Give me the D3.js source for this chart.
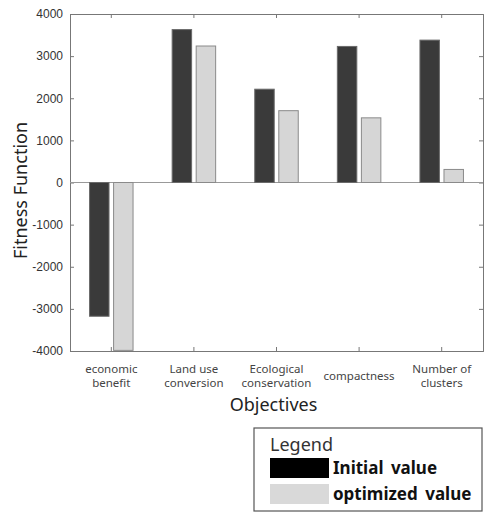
<!DOCTYPE html>
<html>
<head>
<meta charset="utf-8">
<script src="https://cdn.jsdelivr.net/npm/d3@7"></script>
<style>
  body { margin: 0; background: #fff; }
  text { font-family: "Noto Sans", "Open Sans", sans-serif; }
</style>
</head>
<body>
<div id="chart"></div>
<script>
// Chart data
var categories = [["economic", "benefit"], ["Land use", "conversion"], ["Ecological", "conservation"], ["compactness"], ["Number of", "clusters"]];
var seriesNames = ["Initial value", "optimized value"];
var initialValues = [-3175, 3630, 2215, 3230, 3380];
var optimizedValues = [-3985, 3240, 1705, 1535, 310];
var yTicks = [-4000, -3000, -2000, -1000, 0, 1000, 2000, 3000, 4000];

var svgWidth = 485;
var svgHeight = 514;
var margin = { top: 14, right: 2, bottom: 163, left: 70 };
var width = svgWidth - margin.left - margin.right;
var height = svgHeight - margin.top - margin.bottom;

var fills = ["#3a3a3a", "#d6d6d6"];
var strokes = ["#6a6a6a", "#8a8a8a"];

var svg = d3.select("#chart")
  .append("svg")
  .attr("width", svgWidth)
  .attr("height", svgHeight);

var chartGroup = svg.append("g")
  .attr("transform", `translate(${margin.left}, ${margin.top})`);

var rows = categories.map(function(c, i) {
  return { idx: i, values: [initialValues[i], optimizedValues[i]] };
});

// scales
var x0 = d3.scaleBand()
  .domain(d3.range(categories.length))
  .range([0, width])
  .padding(0);

var x1 = d3.scaleBand()
  .domain([0, 1])
  .range([-21.75, 21.75])
  .paddingInner(0.19);

var y = d3.scaleLinear()
  .domain([-4000, 4000])
  .range([height, 0]);

// axes (box style, ticks inside)
var leftAxis = d3.axisLeft(y).tickValues(yTicks).tickSize(-4).tickPadding(7).tickFormat(d3.format("d"));
var rightAxis = d3.axisRight(y).tickValues(yTicks).tickSize(-4).tickFormat("");
var bottomAxis = d3.axisBottom(x0).tickSize(-4).tickFormat("");
var topAxis = d3.axisTop(x0).tickSize(-4).tickFormat("");

var gl = chartGroup.append("g").call(leftAxis);
chartGroup.append("g").attr("transform", `translate(${width},0)`).call(rightAxis);
chartGroup.append("g").attr("transform", `translate(0,${height})`).call(bottomAxis);
chartGroup.append("g").call(topAxis);

chartGroup.selectAll(".domain").attr("stroke", "#777");
chartGroup.selectAll(".tick line").attr("stroke", "#777");
gl.selectAll("text")
  .attr("fill", "#333")
  .style("font-family", "'Liberation Sans', Arial, sans-serif")
  .style("font-size", "12px")
  .text(d => String(d).replace("-", "-"));

// zero line
chartGroup.append("line")
  .attr("x1", 0)
  .attr("x2", width)
  .attr("y1", y(0))
  .attr("y2", y(0))
  .attr("stroke", "#999")
  .attr("stroke-width", 1.2);

// bars
var groups = chartGroup.selectAll(".grp")
  .data(rows)
  .enter()
  .append("g")
  .attr("transform", d => `translate(${x0(d.idx) + x0.bandwidth() / 2},0)`);

groups.selectAll("rect")
  .data(d => d.values.map((v, k) => ({ k: k, v: v })))
  .enter()
  .append("rect")
  .attr("x", d => x1(d.k))
  .attr("width", x1.bandwidth())
  .attr("y", d => y(Math.max(0, d.v)))
  .attr("height", d => Math.abs(y(d.v) - y(0)))
  .attr("fill", d => fills[d.k])
  .attr("stroke", d => strokes[d.k])
  .attr("stroke-width", 1);

// category labels
var labels = chartGroup.selectAll(".cat")
  .data(categories)
  .enter()
  .append("text")
  .attr("text-anchor", "middle")
  .attr("fill", "#444")
  .style("font-size", "11.5px")
  .attr("transform", (d, i) => `translate(${x0(i) + x0.bandwidth() / 2}, ${height + (d.length === 1 ? 29 : 22)})`);

labels.selectAll("tspan")
  .data(d => d)
  .enter()
  .append("tspan")
  .attr("x", 0)
  .attr("dy", (d, i) => i === 0 ? 0 : 14)
  .text(d => d);

// axis titles
chartGroup.append("text")
  .attr("transform", `translate(${-43}, ${height / 2 + 8}) rotate(-90)`)
  .attr("text-anchor", "middle")
  .attr("fill", "#222")
  .style("font-size", "18px")
  .text("Fitness Function");

chartGroup.append("text")
  .attr("x", width / 2 - 3)
  .attr("y", height + 60)
  .attr("text-anchor", "middle")
  .attr("fill", "#222")
  .style("font-size", "18px")
  .text("Objectives");

// legend
var legend = svg.append("g").attr("transform", "translate(254, 428)");
legend.append("rect")
  .attr("width", 228)
  .attr("height", 83)
  .attr("fill", "#fff")
  .attr("stroke", "#555")
  .attr("stroke-width", 1.2);

legend.append("text")
  .attr("x", 16)
  .attr("y", 23)
  .attr("fill", "#333")
  .style("font-size", "18px")
  .text("Legend");

var legendFills = ["#000", "#d9d9d9"];
seriesNames.forEach(function(name, i) {
  legend.append("rect")
    .attr("x", 16)
    .attr("y", 30 + i * 26)
    .attr("width", 59)
    .attr("height", 20)
    .attr("fill", legendFills[i]);
  legend.append("text")
    .attr("x", 79)
    .attr("y", 46 + i * 26)
    .attr("fill", "#111")
    .style("font-size", "17px")
    .style("font-weight", "bold")
    .style("word-spacing", "3px")
    .text(name);
});
</script>
</body>
</html>
